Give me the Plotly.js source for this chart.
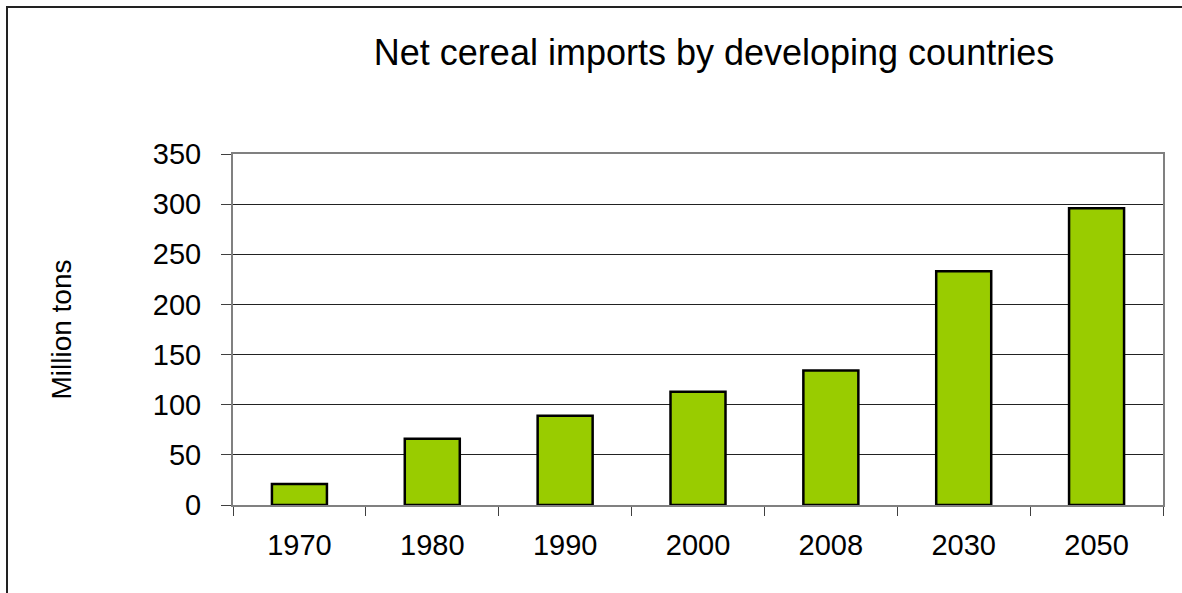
<!DOCTYPE html>
<html>
<head>
<meta charset="utf-8">
<script src="https://cdn.plot.ly/plotly-3.0.1.min.js"></script>
<style>
  html, body { margin: 0; padding: 0; background: #fff; }
  #wrap { position: relative; width: 1182px; height: 593px; overflow: hidden; }
  #chart { width: 1182px; height: 593px; }
  #frame { position: absolute; left: 6px; top: 6px; width: 1200px; height: 620px;
           border-left: 2px solid #222; border-top: 2px solid #222; pointer-events: none; }
</style>
</head>
<body>
<div id="wrap">
  <div id="chart"></div>
  <div id="frame"></div>
</div>
<script>
const years = ["1970", "1980", "1990", "2000", "2008", "2030", "2050"];
const imports = [21, 66, 89, 113, 134, 233, 296];
const yTicks = [0, 50, 100, 150, 200, 250, 300, 350];

const FONT = "Arial, 'Liberation Sans', sans-serif";

const trace = {
  type: "bar",
  x: years,
  y: imports,
  marker: { color: "#99CC00", line: { color: "#000000", width: 2.5 } },
  hoverinfo: "x+y"
};

const layout = {
  width: 1182,
  height: 593,
  paper_bgcolor: "#ffffff",
  plot_bgcolor: "#ffffff",
  margin: { l: 233, r: 19, t: 154, b: 88 },
  bargap: 0.586,
  showlegend: false,
  font: { family: FONT, color: "#000000" },
  title: {
    text: "Net cereal imports by developing countries",
    font: { family: FONT, size: 36, color: "#000000" },
    xref: "container", yref: "container",
    x: 714 / 1182, xanchor: "center",
    y: 1 - 52 / 593, yanchor: "middle"
  },
  xaxis: {
    type: "category",
    tickson: "boundaries",
    ticks: "outside",
    ticklen: 9,
    tickwidth: 1,
    tickcolor: "#404040",
    showline: true,
    linecolor: "#808080",
    linewidth: 2,
    mirror: true,
    showgrid: false,
    tickfont: { family: FONT, size: 29, color: "#000000" },
    ticklabelstandoff: 13
  },
  yaxis: {
    range: [0, 350],
    tickvals: yTicks,
    ticktext: yTicks.map(String),
    ticks: "outside",
    ticklen: 10,
    tickwidth: 1,
    tickcolor: "#404040",
    showline: true,
    linecolor: "#808080",
    linewidth: 2,
    mirror: true,
    showgrid: true,
    gridcolor: "#222222",
    gridwidth: 1,
    zeroline: false,
    tickfont: { family: FONT, size: 29, color: "#000000" },
    ticklabelstandoff: 14,
    title: {
      text: "Million tons",
      font: { family: FONT, size: 28, color: "#000000" },
      standoff: 73
    }
  }
};

Plotly.newPlot("chart", [trace], layout, { displayModeBar: false, staticPlot: true });
</script>
</body>
</html>
